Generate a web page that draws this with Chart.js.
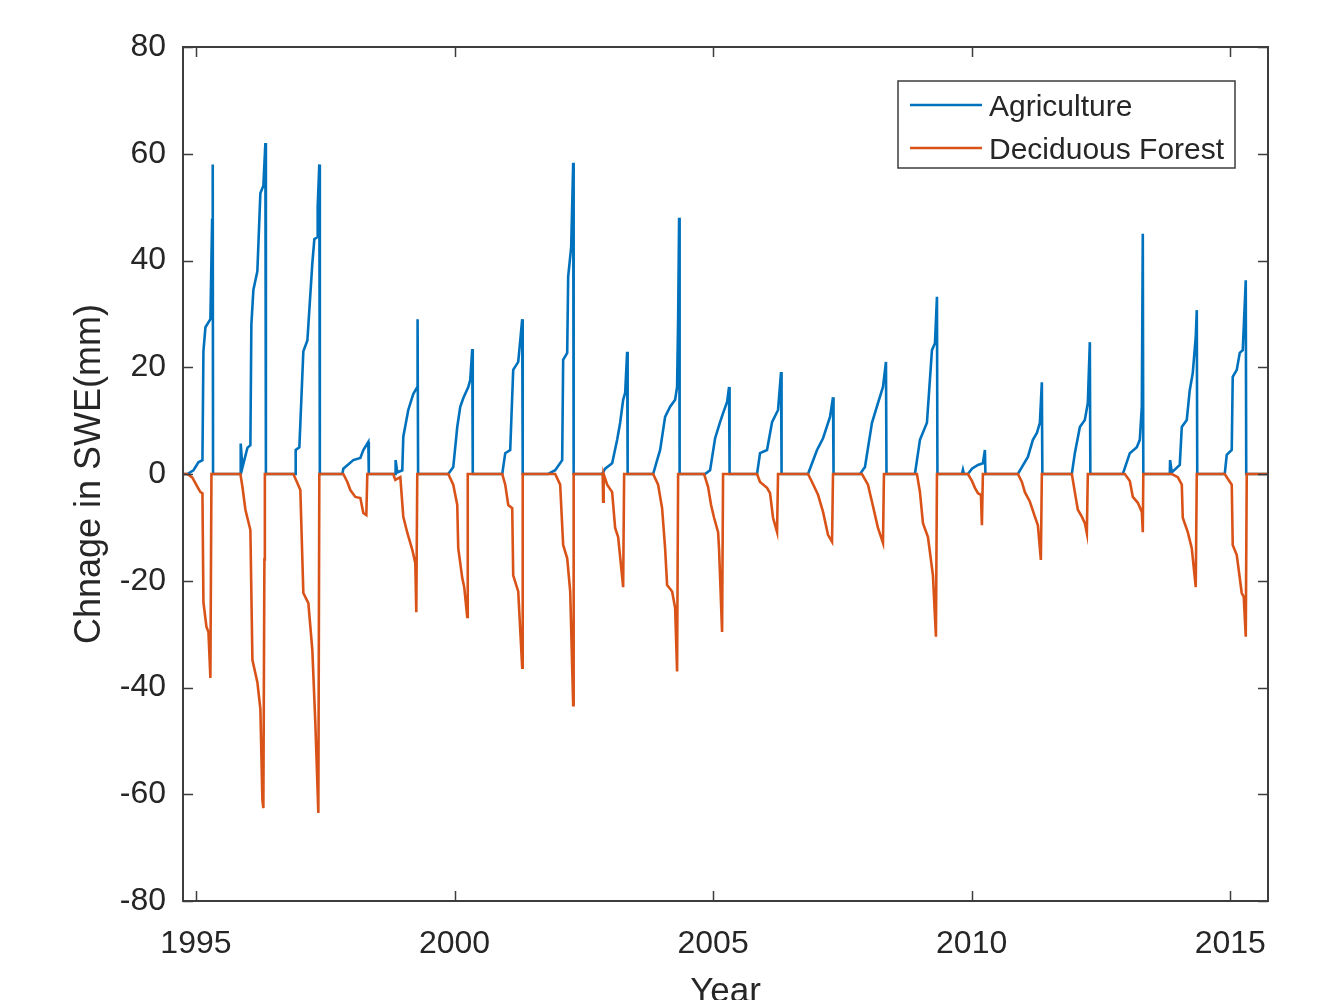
<!DOCTYPE html>
<html>
<head>
<meta charset="utf-8">
<script src="https://cdn.jsdelivr.net/npm/chart.js@4.4.1/dist/chart.umd.min.js"></script>
<style>
  html, body { margin: 0; padding: 0; background: #fff; overflow: hidden; }
  #wrap { width: 1320px; height: 1000px; }
</style>
</head>
<body>
<div id="wrap"><canvas id="c" width="1320" height="1000"></canvas></div>
<script>
// ---------- data ----------
const xTickYears = [1995, 2000, 2005, 2010, 2015];
const yTickValues = [-80, -60, -40, -20, 0, 20, 40, 60, 80];
const seriesNames = ['Agriculture', 'Deciduous Forest'];
const seriesColors = ['#0072BD', '#D95319'];
const xRange = [1994.75, 2015.73];
const yRange = [-80, 80];
const xTitle = 'Year';
const yTitle = 'Chnage in SWE(mm)';

// Agriculture: decimal year / change in SWE (mm)
const aggYears = [
  1994.75, 1994.836, 1994.952, 1995.048, 1995.126, 1995.145, 1995.184, 1995.280, 1995.313, 1995.325, 1995.331,
  1995.860, 1995.866, 1995.899, 1995.995, 1996.053, 1996.072, 1996.111, 1996.188, 1996.246, 1996.304, 1996.343, 1996.353,
  1996.923, 1996.929, 1997.000, 1997.077, 1997.155, 1997.251, 1997.290, 1997.348, 1997.354, 1997.386, 1997.396,
  1997.831, 1997.850, 1998.043, 1998.179, 1998.237, 1998.333, 1998.343,
  1998.855, 1998.861, 1998.894, 1998.990, 1999.010, 1999.106, 1999.203, 1999.280, 1999.286, 1999.296,
  1999.879, 1999.976, 2000.053, 2000.111, 2000.169, 2000.266, 2000.304, 2000.343, 2000.353,
  2000.923, 2000.981, 2001.077, 2001.135, 2001.232, 2001.271, 2001.309, 2001.319,
  2001.812, 2001.947, 2002.082, 2002.101, 2002.179, 2002.198, 2002.256, 2002.295, 2002.304,
  2002.855, 2002.913, 2003.048, 2003.145, 2003.203, 2003.261, 2003.300, 2003.338, 2003.348,
  2003.841, 2003.918, 2003.976, 2004.072, 2004.169, 2004.266, 2004.304, 2004.324, 2004.343, 2004.353,
  2004.845, 2004.942, 2005.039, 2005.135, 2005.193, 2005.271, 2005.309, 2005.319,
  2005.850, 2005.908, 2006.043, 2006.140, 2006.256, 2006.314, 2006.324,
  2006.836, 2006.913, 2007.010, 2007.126, 2007.261, 2007.319, 2007.329,
  2007.841, 2007.937, 2008.072, 2008.188, 2008.285, 2008.343, 2008.353,
  2008.903, 2009.000, 2009.135, 2009.232, 2009.290, 2009.329, 2009.338,
  2009.812, 2009.831, 2009.850, 2009.928, 2010.005, 2010.121, 2010.217, 2010.256, 2010.266,
  2010.894, 2010.971, 2011.087, 2011.184, 2011.261, 2011.319, 2011.357, 2011.367,
  2011.937, 2011.995, 2012.092, 2012.188, 2012.246, 2012.285, 2012.295,
  2012.923, 2013.058, 2013.193, 2013.251, 2013.290, 2013.309, 2013.319,
  2013.831, 2013.837, 2013.870, 2014.024, 2014.063, 2014.159, 2014.217, 2014.275, 2014.333, 2014.353, 2014.362,
  2014.894, 2014.932, 2015.029, 2015.048, 2015.126, 2015.184, 2015.242, 2015.300, 2015.309, 2015.73
];
const aggSWE = [
  0, 0, 0.7, 2.2, 2.6, 23, 27.5, 29, 47.6, 58, 0,
  0, 5.7, 1.2, 4.9, 5.4, 28, 34.5, 38, 52.6, 54, 62, 0,
  0, 4.5, 5, 23, 25, 39.5, 44, 44.4, 50, 58, 0,
  0, 1, 2.6, 3, 4.5, 6, 0,
  0, 2.6, 0.3, 0.7, 7, 12, 15, 16.3, 29, 0,
  0, 1.3, 8.8, 12.6, 14.2, 16.3, 17.6, 23.4, 0,
  0, 3.9, 4.5, 19.5, 21, 25, 29, 0,
  0, 0.7, 2.6, 21.4, 22.7, 37, 42.5, 58.3, 0,
  0, 1, 2, 6.4, 9.6, 13.9, 15.2, 22.9, 0,
  0, 2.6, 4.5, 10.7, 12.6, 13.9, 16.3, 29, 48, 0,
  0, 0.7, 6.7, 9.7, 11.4, 13.5, 16.3, 0,
  0, 3.9, 4.5, 9.7, 12, 19.1, 0,
  0, 2, 4.5, 6.7, 10.7, 14.4, 0,
  0, 1.3, 9.6, 13.3, 16.3, 21, 0,
  0, 6.4, 9.6, 23.2, 24.5, 33.2, 0,
  0, 0.8, 0, 0, 1, 1.7, 2, 4.5, 0,
  0, 1.3, 3.2, 6.4, 7.7, 9.6, 17.2, 0,
  0, 3.9, 8.8, 10.1, 13.3, 24.7, 0,
  0, 3.9, 5, 6.4, 12.6, 45, 0,
  0, 2.6, 0.3, 1.7, 8.8, 10.1, 15.7, 18.9, 25.7, 30.7, 0,
  0, 3.6, 4.5, 18.2, 19.5, 22.7, 23.2, 36.3, 0, 0
];

// Deciduous Forest: decimal year / change in SWE (mm)
const forYears = [
  1994.75, 1994.836, 1994.932, 1995.029, 1995.087, 1995.126, 1995.145, 1995.203, 1995.242, 1995.280, 1995.300,
  1995.860, 1995.899, 1995.957, 1996.053, 1996.092, 1996.188, 1996.246, 1996.285, 1996.304, 1996.324, 1996.333,
  1996.884, 1996.961, 1997.019, 1997.077, 1997.174, 1997.251, 1997.309, 1997.367, 1997.386,
  1997.850, 1997.928, 1997.986, 1998.082, 1998.179, 1998.237, 1998.295, 1998.314,
  1998.816, 1998.855, 1998.952, 1999.010, 1999.087, 1999.184, 1999.242, 1999.261, 1999.280,
  1999.879, 1999.976, 2000.053, 2000.072, 2000.150, 2000.188, 2000.246, 2000.256,
  2000.923, 2000.981, 2001.039, 2001.116, 2001.135, 2001.232, 2001.309, 2001.319,
  2001.947, 2002.043, 2002.101, 2002.179, 2002.237, 2002.295, 2002.304,
  2002.865, 2002.874, 2002.884, 2002.952, 2003.048, 2003.106, 2003.164, 2003.261, 2003.280,
  2003.841, 2003.937, 2004.014, 2004.072, 2004.111, 2004.208, 2004.266, 2004.304, 2004.324,
  2004.826, 2004.903, 2004.961, 2005.019, 2005.097, 2005.116, 2005.174, 2005.193,
  2005.850, 2005.908, 2006.043, 2006.101, 2006.159, 2006.237, 2006.256,
  2006.836, 2006.913, 2007.029, 2007.126, 2007.222, 2007.300, 2007.319,
  2007.879, 2007.995, 2008.072, 2008.188, 2008.285, 2008.304,
  2008.942, 2009.000, 2009.058, 2009.155, 2009.251, 2009.309, 2009.329,
  2009.928, 2010.005, 2010.063, 2010.121, 2010.179, 2010.198, 2010.217,
  2010.894, 2010.971, 2011.029, 2011.126, 2011.222, 2011.280, 2011.338, 2011.357,
  2011.937, 2011.995, 2012.053, 2012.130, 2012.188, 2012.227, 2012.246,
  2012.961, 2013.058, 2013.116, 2013.213, 2013.290, 2013.309, 2013.319,
  2013.870, 2013.986, 2014.063, 2014.082, 2014.179, 2014.256, 2014.333, 2014.353,
  2014.894, 2014.952, 2015.029, 2015.048, 2015.126, 2015.222, 2015.261, 2015.300, 2015.319, 2015.73
];
const forSWE = [
  0, 0, -0.7, -2.4, -3.4, -3.6, -24, -28.6, -29.6, -38.2, 0,
  0, -2.4, -6.7, -10.5, -34.8, -39, -44, -61, -62.6, -16, 0,
  0, -1.7, -3, -22.3, -24.2, -33, -46.7, -63.5, 0,
  0, -1.5, -3, -4.3, -4.5, -7.3, -7.7, 0,
  0, -1.1, -0.6, -8, -11, -14.2, -16.7, -25.9, 0,
  0, -2, -5.8, -13.9, -19.5, -21.2, -26.8, 0,
  0, -2, -5.8, -6.4, -19, -22, -36.3, 0,
  0, -2, -13.3, -15.8, -22, -43.3, 0,
  0, -5.2, 0, -2, -3.4, -10.1, -11.8, -21.2, 0,
  0, -2, -6.4, -13.9, -20.8, -22, -25.1, -37, 0,
  0, -2.4, -5.8, -8.2, -10.9, -14.2, -29.6, 0,
  0, -1.5, -2.6, -3.6, -8.2, -10.9, 0,
  0, -1.5, -3.9, -7.1, -11.4, -12.7, 0,
  0, -2, -5.2, -10.1, -12.9, 0,
  0, -3.4, -9.2, -11.8, -19, -30.5, 0,
  0, -1.3, -2.6, -3.6, -3.9, -9.6, 0,
  0, -1.5, -3.4, -5.2, -8, -9.6, -16.1, 0,
  0, -3.4, -6.7, -8, -9.2, -11.1, 0,
  0, -1.3, -4.3, -5.4, -7.1, -10.9, 0,
  0, -0.6, -2, -8.2, -10.9, -13.9, -21.2, 0,
  0, -0.9, -2, -13.3, -15.2, -22.3, -23, -30.5, 0, 0
];

// ---------- chart ----------
const FONT = '"Liberation Sans", Arial, Helvetica, sans-serif';
const TEXT = '#262626';
const AXIS = '#3d3d3d';

const toPoints = (xs, ys) => xs.map((x, i) => ({ x: x, y: ys[i] }));

const framePlugin = {
  id: 'frame',
  afterDatasetsDraw(chart) {
    const { ctx, chartArea: a, scales } = chart;
    ctx.save();
    ctx.strokeStyle = AXIS;
    ctx.lineWidth = 1.5;
    const tl = 10;
    ctx.beginPath();
    scales.x.ticks.forEach(t => {
      const px = Math.round(scales.x.getPixelForValue(t.value)) + 0.5;
      ctx.moveTo(px, a.bottom); ctx.lineTo(px, a.bottom - tl);
      ctx.moveTo(px, a.top); ctx.lineTo(px, a.top + tl);
    });
    scales.y.ticks.forEach(t => {
      const py = Math.round(scales.y.getPixelForValue(t.value)) + 0.5;
      ctx.moveTo(a.left, py); ctx.lineTo(a.left + tl, py);
      ctx.moveTo(a.right, py); ctx.lineTo(a.right - tl, py);
    });
    ctx.stroke();
    ctx.lineWidth = 2;
    ctx.strokeRect(a.left, a.top, a.right - a.left, a.bottom - a.top);
    ctx.restore();
  },
  afterDraw(chart) {
    // legend box in the upper right of the plot
    const { ctx, chartArea: a } = chart;
    const w = 337, h = 87;
    const left = a.right - 370, top = a.top + 34;
    ctx.save();
    ctx.fillStyle = '#ffffff';
    ctx.fillRect(left, top, w, h);
    ctx.strokeStyle = AXIS;
    ctx.lineWidth = 1.5;
    ctx.strokeRect(left, top, w, h);
    ctx.font = '30px ' + FONT;
    ctx.textBaseline = 'middle';
    ctx.textAlign = 'left';
    chart.data.datasets.forEach((ds, i) => {
      const y = top + 24 + i * 43;
      ctx.strokeStyle = ds.borderColor;
      ctx.lineWidth = 2.5;
      ctx.beginPath();
      ctx.moveTo(left + 12, y); ctx.lineTo(left + 84, y);
      ctx.stroke();
      ctx.fillStyle = TEXT;
      ctx.fillText(ds.label, left + 91, y + 3);
    });
    ctx.restore();
  }
};

new Chart(document.getElementById('c'), {
  type: 'line',
  data: {
    datasets: [
      { label: seriesNames[0], data: toPoints(aggYears, aggSWE), borderColor: seriesColors[0],
        backgroundColor: seriesColors[0], borderWidth: 2.6, pointRadius: 0, tension: 0, fill: false, order: 1 },
      { label: seriesNames[1], data: toPoints(forYears, forSWE), borderColor: seriesColors[1],
        backgroundColor: seriesColors[1], borderWidth: 2.6, pointRadius: 0, tension: 0, fill: false, order: 0 }
    ]
  },
  options: {
    responsive: false,
    animation: false,
    devicePixelRatio: 1,
    layout: { padding: { left: 0, top: 47, right: 52, bottom: 0 } },
    plugins: { legend: { display: false }, tooltip: { enabled: false } },
    scales: {
      x: {
        type: 'linear',
        min: xRange[0], max: xRange[1],
        afterBuildTicks: s => { s.ticks = xTickYears.map(v => ({ value: v })); },
        afterFit: s => { s.height = 99; },
        grid: { display: false, drawTicks: false },
        border: { display: false },
        ticks: { callback: v => String(v), font: { family: FONT, size: 32 }, color: TEXT,
                 padding: 24, maxRotation: 0, autoSkip: false },
        title: { display: true, text: xTitle, color: TEXT, font: { family: FONT, size: 35 },
                 padding: { top: 0, bottom: -13 } }
      },
      y: {
        type: 'linear',
        min: yRange[0], max: yRange[1],
        afterBuildTicks: s => { s.ticks = yTickValues.map(v => ({ value: v })); },
        afterFit: s => { s.width = 183; },
        grid: { display: false, drawTicks: false },
        border: { display: false },
        ticks: { callback: v => String(v), font: { family: FONT, size: 32 }, color: TEXT, padding: 17 },
        title: { display: true, text: yTitle, color: TEXT, font: { family: FONT, size: 36 },
                 padding: { top: 68, bottom: 0 } }
      }
    }
  },
  plugins: [framePlugin]
});
</script>
</body>
</html>
